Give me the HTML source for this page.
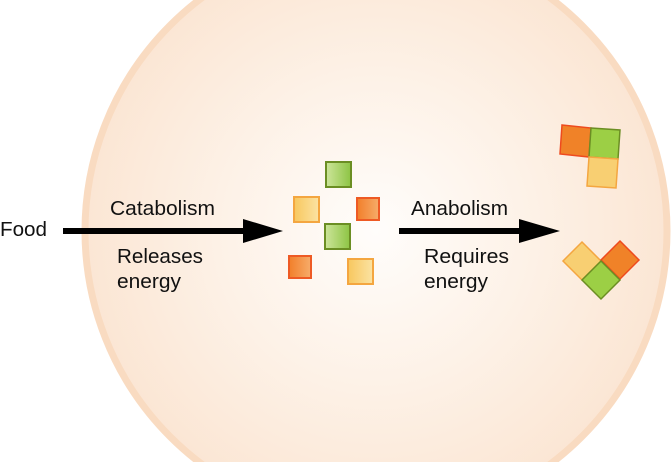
<!DOCTYPE html>
<html><head><meta charset="utf-8"><style>
html,body{margin:0;padding:0;background:#fff;width:671px;height:462px;overflow:hidden;}
svg{display:block;overflow:hidden;}
text{font-family:"Liberation Sans",sans-serif;font-size:20.5px;fill:#111;}
</style></head><body>
<svg width="671" height="462" viewBox="0 0 671 462" xmlns="http://www.w3.org/2000/svg">
<defs>
<radialGradient id="cell" cx="0.5" cy="0.5" r="0.5">
<stop offset="0" stop-color="#fffdfb"/>
<stop offset="0.55" stop-color="#fdf1e6"/>
<stop offset="1" stop-color="#fbe6d4"/>
</radialGradient>
<clipPath id="c"><rect x="0" y="0" width="671" height="462"/></clipPath>
<linearGradient id="g" x1="0" y1="0" x2="1" y2="0"><stop offset="0" stop-color="#cde59a"/><stop offset="1" stop-color="#8dc444"/></linearGradient>
<linearGradient id="y" x1="0" y1="0" x2="1" y2="0"><stop offset="0" stop-color="#f8c75e"/><stop offset="1" stop-color="#fbe3a3"/></linearGradient>
<linearGradient id="o" x1="0" y1="0" x2="1" y2="0"><stop offset="0" stop-color="#f27f2a"/><stop offset="1" stop-color="#f6ac6a"/></linearGradient>
</defs>
<g clip-path="url(#c)">
<circle cx="376" cy="231" r="291" fill="url(#cell)" stroke="#f9dbc1" stroke-width="7"/>
</g>
<rect x="326" y="162" width="25" height="25" fill="url(#g)" stroke="#6b8e23" stroke-width="2"/>
<rect x="294" y="197" width="25" height="25" fill="url(#y)" stroke="#f4a640" stroke-width="2"/>
<rect x="357" y="198" width="22" height="22" fill="url(#o)" stroke="#ee5a24" stroke-width="2"/>
<rect x="325" y="224" width="25" height="25" fill="url(#g)" stroke="#6b8e23" stroke-width="2"/>
<rect x="289" y="256" width="22" height="22" fill="url(#o)" stroke="#ee5a24" stroke-width="2"/>
<rect x="348" y="259" width="25" height="25" fill="url(#y)" stroke="#f4a640" stroke-width="2"/>
<polygon points="562,125 591,128 589,157 560,154" fill="#f08228" stroke="#ee4a1e" stroke-width="1.5"/>
<polygon points="591,128 620,130 618,159 589,157" fill="#9ccf45" stroke="#6b8e23" stroke-width="1.5"/>
<polygon points="589,157 618,159 616,188 587,186" fill="#f8cf72" stroke="#f4a640" stroke-width="1.5"/>
<polygon points="582,242 601,261 582,280 563,261" fill="#f8cf72" stroke="#f4a640" stroke-width="1.5"/>
<polygon points="620,241 639,260 620,279 601,260" fill="#f08228" stroke="#ee4a1e" stroke-width="1.5"/>
<polygon points="601,261 620,280 601,299 582,280" fill="#9ccf45" stroke="#6b8e23" stroke-width="1.5"/>
<rect x="63" y="228" width="184" height="6" fill="#000"/>
<polygon points="243,219 283,231 243,243" fill="#000"/>
<rect x="399" y="228" width="122" height="6" fill="#000"/>
<polygon points="519,219 560,231 519,243" fill="#000"/>
<text x="0" y="236" textLength="47" lengthAdjust="spacingAndGlyphs">Food</text>
<text x="110" y="215" textLength="105" lengthAdjust="spacingAndGlyphs">Catabolism</text>
<text x="117" y="263" textLength="86" lengthAdjust="spacingAndGlyphs">Releases</text>
<text x="117" y="288" textLength="64" lengthAdjust="spacingAndGlyphs">energy</text>
<text x="411" y="215" textLength="97" lengthAdjust="spacingAndGlyphs">Anabolism</text>
<text x="424" y="263" textLength="85" lengthAdjust="spacingAndGlyphs">Requires</text>
<text x="424" y="288" textLength="64" lengthAdjust="spacingAndGlyphs">energy</text>
</svg>
</body></html>
